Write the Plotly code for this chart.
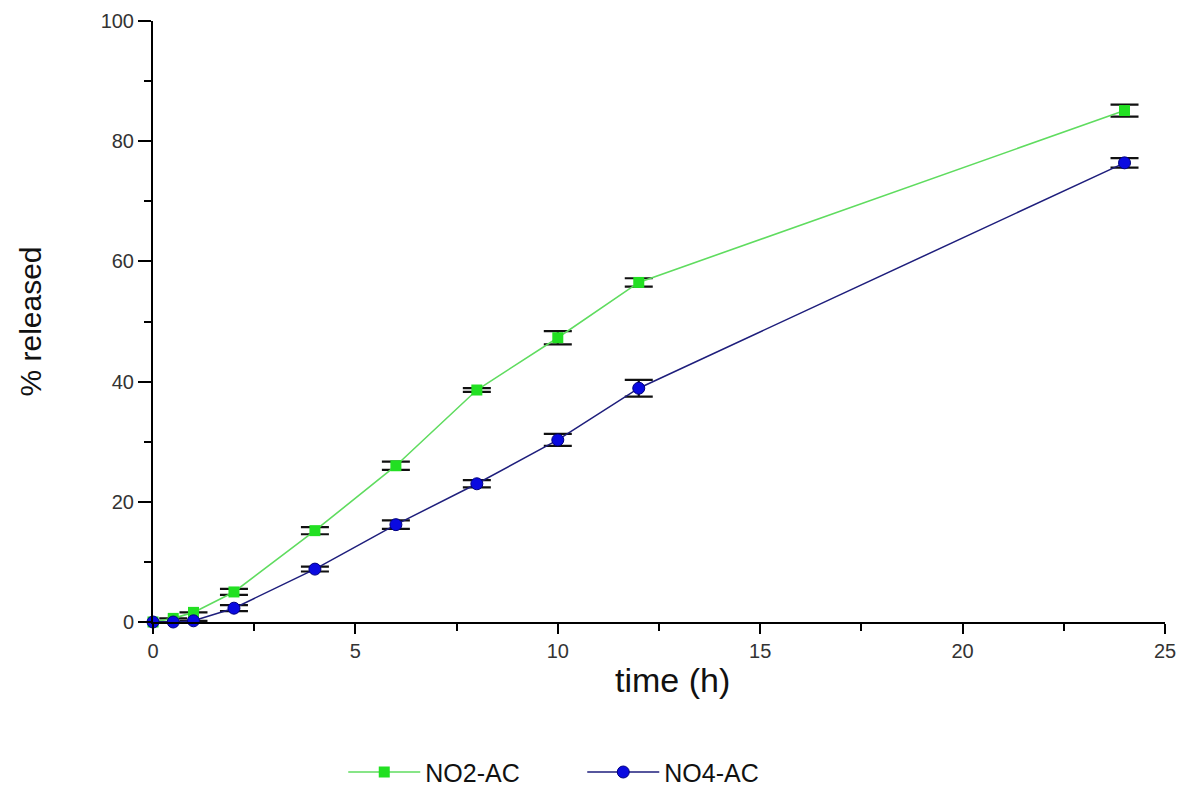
import plotly.graph_objects as go

time_h = [0, 0.5, 1, 2, 4, 6, 8, 10, 12, 24]
no2_ac = [0, 0.6, 1.6, 5.0, 15.2, 26.0, 38.6, 47.3, 56.5, 85.1]
no2_err = [0, 0, 0, 0.5, 0.6, 0.7, 0.3, 1.1, 0.7, 1.0]
no4_ac = [0, 0, 0.2, 2.3, 8.8, 16.2, 23.0, 30.3, 38.9, 76.4]
no4_err = [0, 0, 0, 0.5, 0.4, 0.7, 0.6, 1.0, 1.4, 0.8]

font = "Liberation Sans, Arial, sans-serif"

fig = go.Figure()
fig.add_trace(go.Scatter(
    x=time_h, y=no2_ac, name="NO2-AC", mode="lines+markers",
    line=dict(color="#5fdc5f", width=1.6),
    marker=dict(symbol="square", size=11, color="#22e022"),
    error_y=dict(type="data", array=no2_err, visible=True, color="#111111", thickness=2.2, width=14),
    cliponaxis=False,
))
fig.add_trace(go.Scatter(
    x=time_h, y=no4_ac, name="NO4-AC", mode="lines+markers",
    line=dict(color="#1e1e7c", width=1.5),
    marker=dict(symbol="circle", size=12, color="#0a0ae0", line=dict(color="#000080", width=1)),
    error_y=dict(type="data", array=no4_err, visible=True, color="#111111", thickness=2.2, width=14),
    cliponaxis=False,
))

fig.update_layout(
    width=1195, height=811,
    margin=dict(l=153, r=30, t=21, b=189),
    paper_bgcolor="white", plot_bgcolor="white",
    font=dict(family=font, color="#222222"),
    showlegend=True,
    legend=dict(
        orientation="h", x=0.188, y=-0.25, xanchor="left", yanchor="middle",
        font=dict(size=25, color="#111111"),
        itemwidth=72,
        entrywidth=152, entrywidthmode="pixels",
        bgcolor="rgba(0,0,0,0)",
    ),
    xaxis=dict(
        range=[0, 25], showgrid=False, zeroline=False, automargin=False,
        showline=True, linecolor="black", linewidth=2,
        ticks="outside", ticklen=10, tickwidth=2, tickcolor="black",
        tickvals=[0, 5, 10, 15, 20, 25],
        tickfont=dict(size=20, color="#333333"),
        minor=dict(ticks="outside", ticklen=7, tickwidth=2, tickcolor="black", dtick=2.5, tick0=0),
    ),
    yaxis=dict(
        range=[0, 100], showgrid=False, zeroline=False, automargin=False,
        showline=True, linecolor="black", linewidth=2,
        ticks="outside", ticklen=13, tickwidth=2, tickcolor="black",
        tickvals=[0, 20, 40, 60, 80, 100],
        tickfont=dict(size=20, color="#333333"),
        minor=dict(ticks="outside", ticklen=7, tickwidth=2, tickcolor="black", dtick=10, tick0=0),
        title=dict(text="% released", font=dict(size=30, color="#111111"), standoff=50),
    ),
    annotations=[dict(
        text="time (h)", xref="paper", yref="paper", x=0.513, y=-0.097,
        xanchor="center", yanchor="middle", showarrow=False,
        font=dict(size=34, color="#111111"),
    )],
)

fig.write_html("out.html")
